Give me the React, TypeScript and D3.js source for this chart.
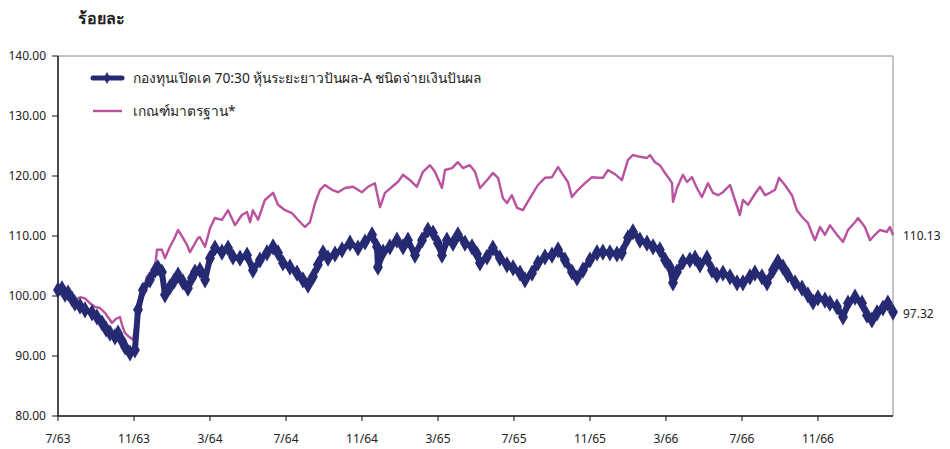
import React from 'react'
import * as d3 from 'd3'

// months counted from 7/63
const tickLabels = ['7/63', '11/63', '3/64', '7/64', '11/64', '3/65', '7/65', '11/65', '3/66', '7/66', '11/66']
const yTicks = [80, 90, 100, 110, 120, 130, 140]

const seriesNames = ['กองทุนเปิดเค 70:30 หุ้นระยะยาวปันผล-A ชนิดจ่ายเงินปันผล', 'เกณฑ์มาตรฐาน*']

const fundMonths = [
    0, 0.21, 0.37, 0.53, 0.74, 0.89, 1.16, 1.42, 1.79, 2.05, 2.32, 2.53, 2.74, 3.0, 3.16, 3.37, 3.53, 3.79, 4.05, 4.21,
    4.47, 4.84, 5.11, 5.26, 5.47, 5.63, 5.89, 6.11, 6.32, 6.58, 6.84, 7.05, 7.21, 7.47, 7.74, 8.0, 8.26, 8.63, 8.95, 9.21,
    9.58, 9.95, 10.26, 10.63, 11.0, 11.32, 11.58, 11.84, 12.21, 12.58, 12.89, 13.16, 13.42, 13.68, 13.95, 14.21, 14.58,
    14.95, 15.37, 15.79, 16.16, 16.53, 16.79, 16.84, 17.11, 17.47, 17.84, 18.16, 18.42, 18.79, 19.16, 19.47, 19.74, 20.0,
    20.21, 20.47, 20.79, 21.05, 21.42, 21.79, 22.05, 22.21, 22.58, 22.89, 23.26, 23.63, 23.95, 24.32, 24.58, 24.95, 25.26,
    25.63, 26.0, 26.32, 26.68, 27.05, 27.32, 27.63, 28.0, 28.37, 28.68, 29.05, 29.42, 29.68, 30.0, 30.26, 30.63, 31.0,
    31.32, 31.68, 31.95, 32.21, 32.37, 32.58, 32.89, 33.26, 33.53, 33.79, 34.16, 34.42, 34.68, 35.0, 35.37, 35.74, 36.05,
    36.42, 36.68, 37.05, 37.32, 37.63, 37.89, 38.16, 38.42, 38.79, 39.16, 39.47, 39.74, 40.0, 40.37, 40.63, 41.0, 41.32,
    41.58, 41.95, 42.32, 42.58, 42.84, 43.11, 43.42, 43.68, 43.95,
]
const fundValues = [
    101.0, 101.2, 100.3, 100.5, 99.5, 98.8, 98.3, 97.7, 97.2, 96.5, 95.5, 94.5, 93.8, 93.2, 93.8, 92.5, 91.5, 90.5, 91.0,
    97.7, 101.0, 102.7, 104.3, 104.7, 104.0, 100.2, 101.5, 102.5, 103.5, 102.3, 101.3, 103.0, 104.0, 104.3, 102.7, 106.3,
    108.0, 107.3, 108.0, 106.5, 106.3, 106.8, 104.3, 106.0, 107.2, 108.2, 107.2, 105.5, 104.8, 103.8, 102.7, 101.8, 103.2,
    105.2, 107.2, 106.3, 107.0, 107.7, 108.8, 108.0, 109.0, 110.2, 108.2, 104.8, 107.3, 108.2, 109.3, 108.2, 109.3, 106.8,
    109.3, 111.0, 110.5, 108.8, 106.8, 109.3, 108.8, 110.2, 108.8, 108.2, 107.0, 105.5, 106.5, 108.0, 106.3, 105.2, 104.7,
    103.8, 102.7, 103.8, 105.5, 106.5, 106.8, 107.7, 106.0, 104.0, 103.0, 104.3, 106.0, 107.2, 107.3, 107.2, 107.0, 107.2,
    109.7, 110.7, 109.3, 108.8, 108.2, 107.7, 106.0, 104.8, 102.2, 104.0, 105.7, 106.0, 106.3, 105.2, 106.3, 104.3, 103.5,
    103.8, 103.2, 102.2, 102.2, 103.2, 103.8, 103.2, 102.2, 104.3, 105.7, 104.8, 103.5, 102.2, 101.3, 100.2, 99.0, 99.7,
    99.3, 98.8, 98.2, 96.5, 98.8, 99.8, 98.8, 96.8, 96.0, 97.2, 98.0, 98.8, 97.32,
]

const benchMonths = [
    0, 0.21, 0.37, 0.63, 0.89, 1.16, 1.42, 1.68, 1.95, 2.21, 2.47, 2.74, 2.84, 3.05, 3.26, 3.37, 3.53, 3.74, 3.95, 4.16,
    4.42, 4.68, 4.89, 5.11, 5.21, 5.47, 5.63, 5.89, 6.11, 6.32, 6.58, 6.79, 6.95, 7.16, 7.37, 7.47, 7.74, 8.0, 8.26, 8.63,
    8.95, 9.32, 9.68, 9.95, 10.11, 10.26, 10.53, 10.89, 11.32, 11.58, 11.95, 12.32, 12.63, 13.0, 13.26, 13.53, 13.79,
    14.05, 14.42, 14.74, 15.11, 15.53, 16.0, 16.32, 16.68, 16.95, 17.21, 17.58, 17.89, 18.16, 18.53, 18.89, 19.21, 19.58,
    19.84, 20.21, 20.37, 20.74, 21.05, 21.32, 21.68, 21.95, 22.21, 22.58, 22.89, 23.16, 23.42, 23.63, 23.89, 24.16, 24.47,
    24.84, 25.26, 25.63, 26.0, 26.32, 26.58, 26.84, 27.05, 27.37, 27.74, 28.11, 28.42, 28.68, 28.95, 29.32, 29.68, 30.0,
    30.26, 30.63, 31.0, 31.16, 31.42, 31.68, 31.95, 32.11, 32.32, 32.37, 32.58, 32.89, 33.11, 33.37, 33.63, 33.89, 34.21,
    34.47, 34.74, 35.0, 35.37, 35.63, 35.89, 36.05, 36.32, 36.68, 36.95, 37.21, 37.47, 37.74, 37.95, 38.26, 38.63, 38.89,
    39.21, 39.47, 39.68, 39.84, 40.11, 40.37, 40.63, 41.0, 41.32, 41.58, 41.95, 42.11, 42.47, 42.74, 43.0, 43.26, 43.63,
    43.79, 43.95,
]
const benchValues = [
    100.8, 100.3, 100.9, 99.8, 99.3, 99.8, 99.6, 98.8, 98.2, 98.0, 97.2, 96.0, 95.5, 96.2, 96.5, 95.2, 93.8, 93.2, 92.7,
    96.5, 100.2, 103.2, 104.0, 104.8, 107.7, 107.7, 106.3, 108.2, 109.5, 111.0, 109.7, 108.5, 107.3, 108.5, 109.7, 109.8,
    108.2, 111.3, 113.0, 112.7, 114.3, 111.8, 113.5, 114.0, 112.3, 114.3, 112.7, 116.0, 117.2, 115.2, 114.3, 113.8, 112.7,
    111.5, 112.3, 115.5, 117.7, 118.5, 117.7, 117.3, 118.0, 118.2, 117.3, 118.2, 118.8, 114.8, 117.2, 118.2, 119.0, 120.2,
    119.3, 118.2, 120.7, 121.8, 120.7, 118.0, 121.0, 121.3, 122.3, 121.3, 121.8, 120.7, 118.0, 119.3, 120.5, 119.7, 116.3,
    115.5, 116.8, 114.7, 114.3, 116.3, 118.5, 119.7, 119.8, 121.5, 120.2, 119.0, 116.5, 117.7, 118.8, 119.8, 119.7, 119.7,
    121.0, 120.3, 119.3, 122.7, 123.5, 123.2, 123.0, 123.5, 122.3, 121.8, 120.5, 119.8, 118.8, 115.7, 118.0, 120.2, 119.0,
    119.8, 118.0, 116.5, 118.8, 117.2, 116.8, 117.3, 118.5, 116.0, 113.5, 116.0, 115.2, 117.0, 118.2, 116.8, 117.2, 117.7,
    119.7, 118.5, 116.8, 114.3, 113.0, 112.2, 110.5, 109.3, 111.5, 110.2, 111.8, 110.2, 109.0, 111.0, 112.3, 113.0, 111.5,
    109.3, 110.2, 111.0, 110.7, 111.5, 110.13,
]

const W = 950
const H = 449
const NAVY = '#262a72'
const PINK = '#b9529f'
const FONT = "'Noto Sans', 'DejaVu Sans', sans-serif"

export default function App() {
    const left = 58
    const right = 893
    const top = 56
    const bottom = 416

    const x = d3.scaleLinear().domain([0, 43.95]).range([left, right])
    const y = d3.scaleLinear().domain([80, 140]).range([bottom, top])

    const fund = fundMonths.map((m, i) => ({ m, v: fundValues[i] }))
    const bench = benchMonths.map((m, i) => ({ m, v: benchValues[i] }))

    const line = d3
        .line<{ m: number; v: number }>()
        .x(d => x(d.m))
        .y(d => y(d.v))

    const diamond = d3.symbol(d3.symbolDiamond, 85)()

    const lastFund = fund[fund.length - 1]
    const lastBench = bench[bench.length - 1]

    return (
        <svg width={W} height={H} style={{ position: 'absolute', left: 0, top: 0 }} fontFamily={FONT}>
            <rect width={W} height={H} fill='#fff' />
            <text x={78} y={24} fontSize={16} fontWeight='bold' fill='#222'>
                ร้อยละ
            </text>

            {/* frame */}
            <line x1={left} x2={right} y1={top} y2={top} stroke='#888' strokeWidth={1} />
            <line x1={right} x2={right} y1={top} y2={bottom} stroke='#888' strokeWidth={1} />
            <line x1={left} x2={left} y1={top} y2={bottom} stroke='#111' strokeWidth={1.5} />
            <line x1={left} x2={right} y1={bottom} y2={bottom} stroke='#111' strokeWidth={1.5} />

            {yTicks.map(t => (
                <g key={t}>
                    <line x1={left - 6} x2={left} y1={y(t)} y2={y(t)} stroke='#111' />
                    <text x={left - 12} y={y(t) + 4} textAnchor='end' fontSize={12} fill='#222'>
                        {t.toFixed(2)}
                    </text>
                </g>
            ))}

            {tickLabels.map((t, i) => (
                <g key={t}>
                    <line x1={x(i * 4)} x2={x(i * 4)} y1={bottom} y2={bottom + 5} stroke='#111' />
                    <text x={x(i * 4)} y={bottom + 27} textAnchor='middle' fontSize={12} fill='#222'>
                        {t}
                    </text>
                </g>
            ))}

            {/* benchmark */}
            <path d={line(bench) || ''} fill='none' stroke={PINK} strokeWidth={2.4} strokeLinejoin='round' />

            {/* fund */}
            <path d={line(fund) || ''} fill='none' stroke={NAVY} strokeWidth={6} strokeLinejoin='round' />
            {fund.map((d, i) => (
                <path key={i} d={diamond || ''} transform={`translate(${x(d.m)},${y(d.v)})`} fill={NAVY} />
            ))}

            <text x={right + 10} y={y(lastBench.v) + 5} fontSize={12} fill='#222'>
                {lastBench.v.toFixed(2)}
            </text>
            <text x={right + 10} y={y(lastFund.v) + 6} fontSize={12} fill='#222'>
                {lastFund.v.toFixed(2)}
            </text>

            {/* legend */}
            <line x1={93} x2={122} y1={78} y2={78} stroke={NAVY} strokeWidth={5} strokeLinecap='round' />
            <path d={d3.symbol(d3.symbolDiamond, 40)() || ''} transform='translate(107,78)' fill={NAVY} />
            <text x={133} y={83} fontSize={13.8} fill='#222'>
                {seriesNames[0]}
            </text>
            <line x1={93} x2={122} y1={111} y2={111} stroke={PINK} strokeWidth={2.4} />
            <text x={133} y={116} fontSize={13.8} fill='#222'>
                {seriesNames[1]}
            </text>
        </svg>
    )
}
